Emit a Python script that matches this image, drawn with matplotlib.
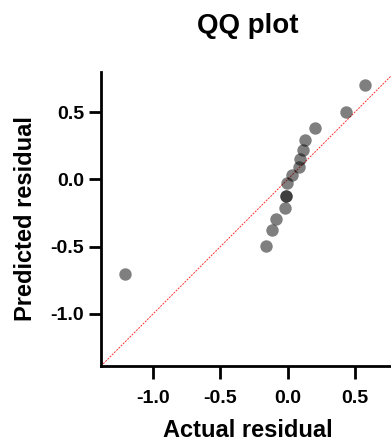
import matplotlib
matplotlib.use("Agg")
from matplotlib import pyplot as plt

plt.rcParams['font.family'] = ['Liberation Sans', 'DejaVu Sans']
plt.rcParams['font.weight'] = 'bold'

# residuals
actual_residual = [-1.214, -0.159, -0.119, -0.084, -0.017, -0.015, -0.013,
                   -0.005, 0.032, 0.082, 0.089, 0.112, 0.127, 0.206, 0.434, 0.576]
predicted_residual = [-0.702, -0.496, -0.379, -0.293, -0.216, -0.121, -0.121,
                      -0.027, 0.030, 0.092, 0.151, 0.221, 0.295, 0.385, 0.499, 0.705]

x_ticks = [-1.0, -0.5, 0.0, 0.5]
y_ticks = [-1.0, -0.5, 0.0, 0.5]
lo, hi = -1.39, 0.80


def plot_qq():
    fig = plt.figure(figsize=(3.91, 4.45), dpi=100)
    ax = fig.add_axes([0.2583, 0.1775, 0.752, 0.6607])

    ax.plot([lo, hi], [lo, hi], color='red', linestyle=(0, (2, 1.2)),
            linewidth=0.7, alpha=0.8, zorder=1)
    ax.scatter(actual_residual, predicted_residual, s=80, color='black',
               alpha=0.5, linewidths=0, zorder=2)

    ax.set_xlim(lo, hi)
    ax.set_ylim(lo, hi)
    ax.set_xticks(x_ticks)
    ax.set_yticks(y_ticks)
    ax.set_xticklabels([f'{t:.1f}' for t in x_ticks])
    ax.set_yticklabels([f'{t:.1f}' for t in y_ticks])

    for side in ['top', 'right']:
        ax.spines[side].set_visible(False)
    for side in ['left', 'bottom']:
        ax.spines[side].set_linewidth(2)
    ax.tick_params(width=2, length=9, labelsize=14)
    ax.tick_params(axis='x', pad=8)
    ax.tick_params(axis='y', pad=3)

    ax.set_xlabel('Actual residual', fontsize=17, fontweight='bold', labelpad=9)
    ax.set_ylabel('Predicted residual', fontsize=17, fontweight='bold', labelpad=10)
    ax.set_title('QQ plot', fontsize=20, fontweight='bold', pad=28)

    fig.savefig('out.png', dpi=100)


if __name__ == "__main__":
    plot_qq()
